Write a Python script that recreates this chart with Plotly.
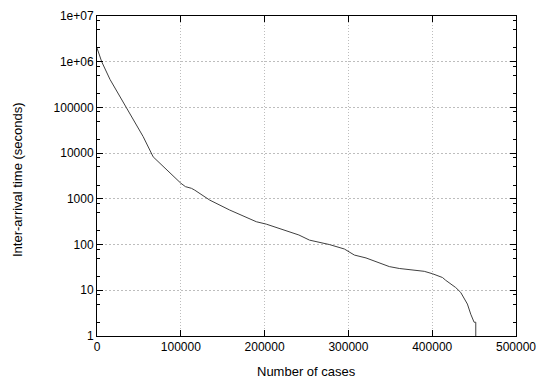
import plotly.graph_objects as go

cases = [0, 5600, 15500, 25400, 35300, 45200, 55100, 67000, 77000, 88900,
         100000, 105500, 112700, 116700, 134500, 158300, 190100, 202000, 217900,
         240900, 253600, 277400, 295200, 307100, 321000, 336900, 348800, 360700,
         376500, 390500, 400400, 412300, 416000, 422200, 428000, 434000, 438000,
         442000, 446000, 450000, 452000, 452000]
inter_arrival = [2.0e6, 1.0e6, 4.1e5, 2.0e5, 1.0e5, 4.9e4, 2.3e4, 8300, 5500, 3300,
                 2200, 1850, 1700, 1550, 940, 570, 316, 280, 226,
                 162, 125, 100, 80, 59, 51, 39, 33, 30,
                 28, 26, 23, 19, 16.6, 14, 11.5, 9, 6.6,
                 5, 3, 2, 2, 1]

x_ticks = [0, 100000, 200000, 300000, 400000, 500000]
x_tick_labels = ["0", "100000", "200000", "300000", "400000", "500000"]
y_ticks = [1, 10, 100, 1000, 10000, 100000, 1e6, 1e7]
y_tick_labels = ["1", "10", "100", "1000", "10000", "100000", "1e+06", "1e+07"]
y_minor = [m * 10 ** k for k in range(0, 7) for m in (2, 5, 8)]

font = dict(family="Liberation Sans, Arial, sans-serif", size=12, color="black")
title_font = dict(family="Liberation Sans, Arial, sans-serif", size=13, color="black")

fig = go.Figure()
fig.add_trace(go.Scatter(x=cases, y=inter_arrival, mode="lines",
                         line=dict(color="#404040", width=1), showlegend=False))

axis_common = dict(showline=True, linecolor="black", linewidth=1, mirror="ticks",
                   ticks="inside", ticklen=6, tickcolor="black",
                   showgrid=True, gridcolor="#bdbdbd", gridwidth=1,
                   zeroline=False, tickfont=font, automargin=False)

fig.update_xaxes(range=[0, 500000], tickmode="array", tickvals=x_ticks,
                 ticktext=x_tick_labels, griddash="1px,2px", **axis_common)
fig.update_yaxes(type="log", range=[0, 7], tickmode="array", tickvals=y_ticks,
                 ticktext=y_tick_labels, griddash="2px,2px",
                 minor=dict(tickmode="array", tickvals=y_minor, ticks="inside",
                            ticklen=3, tickcolor="black", showgrid=False),
                 **axis_common)

fig.update_layout(
    width=540, height=378,
    margin=dict(l=97, r=24, t=16, b=42),
    paper_bgcolor="white", plot_bgcolor="white",
    font=font,
    annotations=[
        dict(text="Number of cases", xref="paper", yref="paper", x=0.5, y=0,
             yshift=-35, showarrow=False, xanchor="center", yanchor="middle",
             font=title_font),
        dict(text="Inter-arrival time (seconds)", xref="paper", yref="paper", x=0, y=0.5,
             xshift=-80, yshift=-4, showarrow=False, textangle=-90, xanchor="center",
             yanchor="middle", font=title_font),
    ],
)

fig.write_html("out.html", config={"displayModeBar": False},
               post_script="document.body.style.margin='0';document.body.style.overflow='hidden';")
